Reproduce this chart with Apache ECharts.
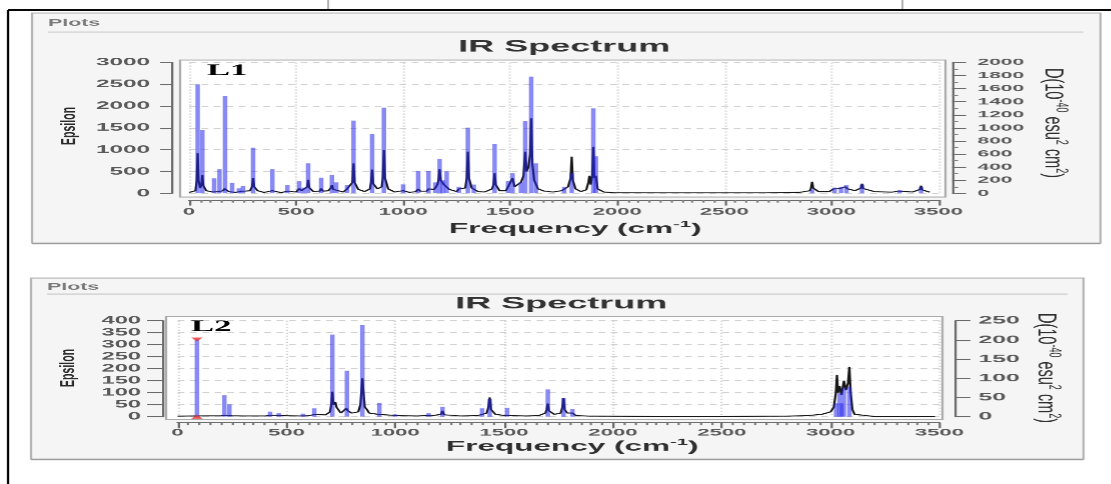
<!DOCTYPE html>
<html>
<head>
<meta charset="utf-8">
<script src="https://cdn.jsdelivr.net/npm/echarts@6/dist/echarts.min.js"></script>
<style>
  html, body { margin: 0; padding: 0; background: #fff; width: 1111px; height: 484px; overflow: hidden; }
  #chart { position: absolute; left: 0; top: 0; height: 484px; transform-origin: 0 0; }
</style>
</head>
<body>
<div id="chart"></div>
<script>
// ---------------------------------------------------------------
// L1: computed IR lines [frequency cm-1, D (1e-40 esu^2 cm^2)]
const l1Sticks = [
  [40, 1667], [62, 967], [117, 229], [142, 367], [168, 1488], [201, 162], [233, 77],
  [252, 111], [299, 697], [389, 367], [459, 127], [514, 188], [535, 87], [556, 459],
  [617, 239], [667, 280], [687, 167], [738, 127], [768, 1110], [855, 907], [910, 1309],
  [1000, 137], [1070, 341], [1118, 341], [1150, 167], [1170, 525], [1185, 200],
  [1203, 341], [1260, 100], [1302, 1003], [1330, 133], [1427, 754], [1490, 188],
  [1511, 306], [1550, 167], [1570, 1105], [1598, 1783], [1620, 459], [1752, 100],
  [1787, 306], [1888, 1300], [1900, 567], [2910, 60], [3015, 87], [3045, 100],
  [3070, 127], [3143, 133], [3319, 53], [3419, 100]
];
// L1: broadened spectrum [frequency cm-1, epsilon]
const l1Curve = [
  [0, 20], [30, 60], [36, 300], [40, 917], [44, 300], [52, 120], [58, 200], [62, 420],
  [66, 180], [80, 60], [110, 30], [117, 60], [122, 25], [138, 40], [142, 80], [147, 35],
  [160, 60], [165, 110], [168, 152], [172, 100], [185, 40], [201, 50], [215, 20],
  [233, 40], [245, 45], [252, 80], [260, 50], [285, 60], [294, 150], [299, 344],
  [304, 150], [320, 60], [350, 20], [389, 60], [395, 20], [430, 15], [459, 50],
  [470, 15], [500, 30], [514, 110], [525, 60], [535, 80], [545, 70], [552, 150],
  [556, 310], [561, 130], [580, 40], [610, 50], [617, 110], [625, 50], [650, 60],
  [662, 120], [667, 190], [673, 90], [690, 60], [720, 30], [738, 100], [750, 90],
  [763, 250], [768, 688], [773, 250], [790, 90], [820, 40], [845, 100], [850, 250],
  [855, 545], [860, 220], [880, 100], [900, 150], [905, 350], [910, 993], [915, 350],
  [930, 100], [960, 30], [1000, 60], [1030, 20], [1060, 40], [1070, 100], [1080, 50],
  [1110, 50], [1118, 100], [1125, 60], [1145, 90], [1160, 200], [1165, 300],
  [1170, 550], [1175, 300], [1190, 200], [1203, 200], [1215, 90], [1250, 40],
  [1260, 100], [1270, 60], [1290, 120], [1297, 350], [1302, 954], [1307, 350],
  [1320, 120], [1330, 100], [1350, 40], [1380, 30], [1415, 100], [1422, 200],
  [1427, 459], [1432, 200], [1450, 60], [1480, 60], [1490, 150], [1500, 120],
  [1511, 350], [1520, 150], [1540, 150], [1550, 250], [1562, 400], [1570, 954],
  [1576, 500], [1585, 600], [1593, 900], [1598, 1720], [1603, 700], [1612, 300],
  [1620, 300], [1630, 100], [1660, 50], [1700, 30], [1740, 60], [1752, 80],
  [1770, 150], [1782, 350], [1787, 840], [1792, 300], [1805, 100], [1830, 40],
  [1855, 80], [1865, 250], [1870, 400], [1876, 200], [1883, 400], [1888, 1069],
  [1893, 350], [1900, 400], [1908, 100], [1940, 25], [2000, 12], [2200, 10],
  [2500, 10], [2700, 12], [2850, 20], [2900, 60], [2905, 120], [2910, 266],
  [2915, 120], [2940, 40], [2990, 40], [3010, 100], [3015, 130], [3025, 80],
  [3040, 110], [3045, 130], [3055, 90], [3065, 150], [3070, 190], [3076, 100],
  [3110, 60], [3138, 120], [3143, 220], [3148, 110], [3200, 40], [3280, 25],
  [3314, 50], [3319, 85], [3324, 45], [3380, 30], [3414, 90], [3419, 175],
  [3424, 80], [3460, 25]
];

// L2: computed IR lines [frequency cm-1, D (1e-40 esu^2 cm^2)]
const l2Sticks = [
  [89, 201], [215, 56], [238, 32], [425, 13], [465, 9], [576, 8], [628, 22],
  [711, 214], [778, 120], [849, 239], [927, 36], [1000, 6], [1153, 9], [1217, 26],
  [1399, 22], [1434, 46], [1514, 23], [1701, 71], [1773, 49], [1814, 20],
  [3025, 35], [3041, 61], [3050, 35], [3061, 75], [3086, 78]
];
// L2: broadened spectrum [frequency cm-1, epsilon]
const l2Curve = [
  [0, 2], [80, 3], [89, 8], [100, 3], [200, 4], [215, 12], [225, 6], [238, 9],
  [250, 4], [300, 3], [400, 3], [425, 6], [440, 3], [465, 5], [480, 2], [560, 3],
  [576, 5], [600, 4], [620, 6], [628, 9], [640, 5], [680, 8], [700, 20], [706, 50],
  [711, 104], [716, 50], [725, 60], [730, 40], [750, 15], [770, 20], [775, 35],
  [778, 42], [782, 25], [800, 15], [830, 20], [840, 50], [845, 110], [849, 160],
  [853, 110], [860, 40], [870, 30], [880, 15], [900, 8], [920, 10], [927, 15],
  [935, 8], [1000, 5], [1100, 3], [1140, 5], [1153, 8], [1170, 4], [1210, 10],
  [1217, 25], [1224, 8], [1300, 3], [1380, 5], [1399, 12], [1420, 15], [1428, 40],
  [1434, 80], [1440, 30], [1460, 10], [1500, 5], [1514, 12], [1530, 5], [1600, 3],
  [1660, 5], [1690, 15], [1696, 30], [1701, 55], [1706, 25], [1730, 10], [1760, 15],
  [1768, 40], [1773, 77], [1778, 30], [1790, 15], [1800, 20], [1814, 15], [1830, 5],
  [1900, 2], [2200, 1], [2500, 1], [2800, 2], [2900, 5], [2960, 10], [3000, 20],
  [3015, 40], [3024, 100], [3029, 174], [3034, 100], [3041, 128], [3050, 90],
  [3061, 150], [3070, 110], [3080, 140], [3086, 208], [3092, 100], [3100, 30],
  [3110, 10], [3130, 3], [3200, 1], [3480, 1]
];
const l2SelectedLine = 0;   // highlighted line in l2Sticks

// Axis scales
const freqRange = [0, 3500], freqStep = 500;
const l1EpsRange = [0, 3000], l1EpsStep = 500;
const l1DRange = [0, 2000], l1DStep = 200;
const l2EpsRange = [0, 400], l2EpsStep = 50;
const l2DRange = [0, 250], l2DStep = 50;

// ---------------------------------------------------------------
// The sheet is drawn narrow and widened by SX (the panels are a
// horizontally stretched screen capture).
const SX = 2.25;
const W = 1111 / SX;
const X = v => v / SX;

const SANS = '"Liberation Sans", Arial, Helvetica, sans-serif';
const SERIF = '"Liberation Serif", "Times New Roman", serif';
const INK = '#2e2e2e';
const AXIS = '#6a6a6a';
const TICKTXT = '#5a5a5a';
const plain = v => String(v);   // tick values without thousands separators

const dom = document.getElementById('chart');
dom.style.width = W + 'px';
dom.style.transform = 'scaleX(' + SX + ')';
const chart = echarts.init(dom, null, { renderer: 'canvas', devicePixelRatio: SX });

function xAxisFor(gridIndex, offset, margin) {
  return {
    gridIndex, type: 'value', position: 'bottom',
    min: freqRange[0], max: freqRange[1], interval: freqStep, offset,
    axisLine: { show: true, onZero: false, lineStyle: { color: AXIS, width: 1 } },
    axisTick: { show: true, length: 5.5, lineStyle: { color: AXIS, width: 1 } },
    minorTick: { show: true, splitNumber: 10, length: 2.5, lineStyle: { color: '#808080', width: 1 } },
    axisLabel: { fontSize: 9.8, color: TICKTXT, fontWeight: 'bold', fontFamily: SANS, margin, formatter: plain },
    splitLine: { show: true, lineStyle: { color: '#cfcfcf', width: 1, type: [1, 2] } }
  };
}
function yAxisFor(gridIndex, position, range, step, o) {
  return {
    gridIndex, type: 'value', position,
    min: range[0], max: range[1], interval: step, offset: X(o.offset),
    axisLine: { show: true, onZero: false, lineStyle: { color: AXIS, width: 1 } },
    axisTick: { show: true, length: X(o.tick), lineStyle: { color: AXIS, width: 1 } },
    minorTick: { show: !!o.minor, splitNumber: o.minor || 5, length: X(6), lineStyle: { color: '#808080', width: 1 } },
    axisLabel: { fontSize: o.font, color: TICKTXT, fontWeight: 'bold', fontFamily: SANS, margin: X(o.margin), formatter: plain },
    splitLine: { show: !!o.grid, lineStyle: { color: '#d2d2d2', width: 1, type: [3, 2.5] } }
  };
}

// ---------- decoration helpers (coordinates in sheet pixels) ----------
function rect(x1, y1, x2, y2, style, z) {
  return { type: 'rect', silent: true, z: z,
    shape: { x: X(x1), y: y1, width: X(x2 - x1), height: y2 - y1 }, style };
}
function line(x1, y1, x2, y2, stroke, lw, z) {
  return { type: 'line', silent: true, z: z === undefined ? -5 : z,
    shape: { x1: X(x1), y1, x2: X(x2), y2 }, style: { stroke, lineWidth: lw } };
}
function label(x, y, text, s, extra) {
  const style = Object.assign({
    text, x: 0, y: 0,
    fontFamily: SANS, fontSize: 12, fontWeight: 'normal',
    fill: INK, textFill: INK,
    align: 'center', textAlign: 'center',
    verticalAlign: 'middle', textVerticalAlign: 'middle'
  }, s);
  return Object.assign({ type: 'text', silent: true, z: 20, x: X(x), y, style }, extra || {});
}
function supRich(size, weight) {
  return {
    b: { fontFamily: SANS, fontSize: size, fontWeight: weight, fill: INK, textFill: INK,
         lineHeight: size + 4, verticalAlign: 'middle', textVerticalAlign: 'middle' },
    s: { fontFamily: SANS, fontSize: Math.round(size * 0.62), fontWeight: weight, fill: INK, textFill: INK,
         lineHeight: Math.round(size * 0.62), verticalAlign: 'top', textVerticalAlign: 'top' }
  };
}
const dTitle = '{b|D(10}{s|-40}{b| esu}{s|2}{b| cm}{s|2}{b|)}';
const fTitle = '{b|Frequency (cm}{s|-1}{b|)}';

function panel(p) {
  return [
    rect(p.box[0], p.box[1], p.box[2], p.box[3], { fill: '#f5f5f5', stroke: '#b4b4b4', lineWidth: 1 }, -20),
    line(p.box[0], p.box[3] + 0.5, p.box[2], p.box[3] + 0.5, '#9c9c9c', 1.5, -19),
    line(p.sep[0], p.sep[2], p.sep[1], p.sep[2], '#c6c6c6', 1, -19),
    rect(p.frame[0], p.frame[1], p.frame[2], p.frame[3], { fill: '#ffffff', stroke: '#ababab', lineWidth: 1 }, -10),
    label(p.plots[0], p.plots[1], 'Plots', { fontSize: 9.5, fontWeight: 'bold', fill: '#7a7a7a', textFill: '#7a7a7a', align: 'left', textAlign: 'left' }),
    label(p.title[0], p.title[1], 'IR Spectrum', { fontSize: 16, fontWeight: 'bold', fill: '#333', textFill: '#333' }),
    label(p.tag[0], p.tag[1], p.tagText, { fontFamily: SERIF, fontSize: 15.5, fontWeight: 'bold', fill: '#000', textFill: '#000' }),
    label(p.eps[0], p.eps[1], 'Epsilon', { fontSize: 12, fontWeight: 'bold', fill: '#2a2a2a', textFill: '#2a2a2a' }, { rotation: Math.PI / 2, scaleX: 0.88, scaleY: 0.75 }),
    label(p.dlab[0], p.dlab[1], dTitle, { fontSize: 14.5, rich: supRich(14.5, 'normal') }, { rotation: -Math.PI / 2, scaleY: 0.8 }),
    label(p.freq[0], p.freq[1], fTitle, { fontSize: 14, fontWeight: 'bold', rich: supRich(14, 'bold') })
  ];
}

const panel1 = {
  box: [32, 13, 1100, 243], sep: [48, 1083, 32], frame: [180, 60, 945, 197],
  plots: [48, 23], title: [564, 47], tag: [227, 71], tagText: 'L1',
  eps: [69, 126], dlab: [1052, 123], freq: [575, 229]
};
const panel2 = {
  box: [31, 278, 1083, 459], sep: [47, 1067, 294], frame: [166, 316.5, 942, 419.5],
  plots: [47, 287], title: [561, 304], tag: [211, 327], tagText: 'L2',
  eps: [68, 368], dlab: [1045, 368], freq: [572, 447]
};

const decor = [].concat(
  [
    line(8, 10, 1111, 10, '#000', 2, 30),
    line(8, 10, 8, 484, '#000', 1, 30),
    line(328, 0, 328, 9, '#8c8c8c', 0.6, 30),
    line(902, 0, 902, 9, '#8c8c8c', 0.6, 30)
  ],
  panel(panel1),
  panel(panel2)
);

const sel = l2Sticks[l2SelectedLine];

chart.setOption({
  animation: false,
  backgroundColor: '#ffffff',
  grid: [
    { left: X(189), top: 62.5, width: X(749), height: 130.8, containLabel: false, outerBoundsMode: 'none' },
    { left: X(177.5), top: 320.7, width: X(761.5), height: 96, containLabel: false, outerBoundsMode: 'none' }
  ],
  xAxis: [
    xAxisFor(0, 6.7, 7),
    xAxisFor(1, 6, 5.3)
  ],
  yAxis: [
    yAxisFor(0, 'left', l1EpsRange, l1EpsStep, { offset: 17, tick: 12, margin: 22, font: 10.8, grid: true }),
    yAxisFor(0, 'right', l1DRange, l1DStep, { offset: 13.7, tick: 14, margin: 25.3, font: 9.3, minor: 2 }),
    yAxisFor(1, 'left', l2EpsRange, l2EpsStep, { offset: 14.5, tick: 16, margin: 22, font: 10.5, grid: true }),
    yAxisFor(1, 'right', l2DRange, l2DStep, { offset: 16, tick: 15, margin: 23, font: 11 })
  ],
  graphic: { elements: decor },
  series: [
    { name: 'L1 epsilon', type: 'line', xAxisIndex: 0, yAxisIndex: 0, data: l1Curve,
      symbol: 'none', silent: true, z: 2, lineStyle: { color: '#161616', width: 1 } },
    { name: 'L1 D', type: 'bar', xAxisIndex: 0, yAxisIndex: 1, data: l1Sticks,
      barWidth: 2, silent: true, z: 3, itemStyle: { color: 'rgba(40,40,235,0.55)' } },
    { name: 'L2 epsilon', type: 'line', xAxisIndex: 1, yAxisIndex: 2, data: l2Curve,
      symbol: 'none', silent: true, z: 2, lineStyle: { color: '#161616', width: 1 } },
    { name: 'L2 D', type: 'bar', xAxisIndex: 1, yAxisIndex: 3, data: l2Sticks,
      barWidth: 2, silent: true, z: 3, itemStyle: { color: 'rgba(40,40,235,0.55)' } },
    { name: 'L2 selected', type: 'scatter', xAxisIndex: 1, yAxisIndex: 3,
      symbol: 'triangle', symbolSize: [5, 4], silent: true, z: 6,
      itemStyle: { color: '#e53030' },
      data: [ { value: sel, symbolRotate: 180 }, { value: [sel[0], 0] } ] }
  ]
});
</script>
</body>
</html>
